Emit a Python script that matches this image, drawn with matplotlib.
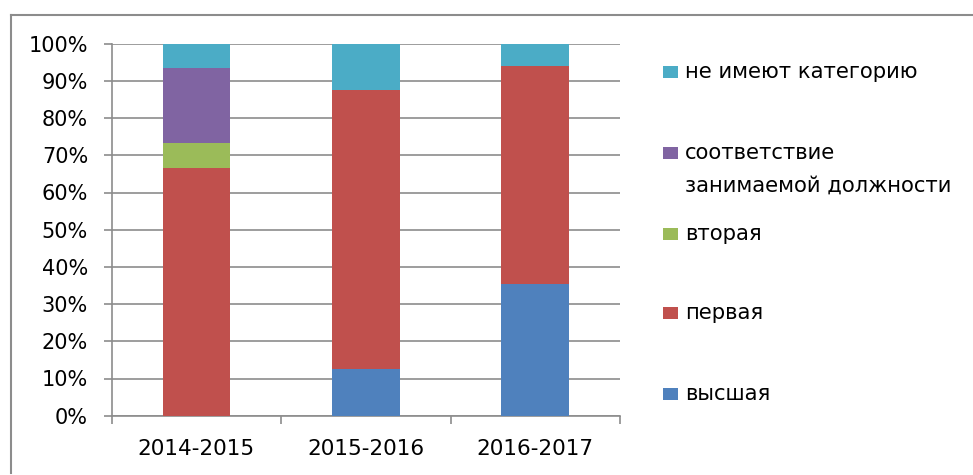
import matplotlib
matplotlib.use('Agg')
import matplotlib.pyplot as plt
from matplotlib.patches import Rectangle
from matplotlib.lines import Line2D
import numpy as np

# teacher qualification categories by school year, shares in %
years = ['2014-2015', '2015-2016', '2016-2017']
categories = ['высшая', 'первая', 'вторая',
              'соответствие\nзанимаемой должности', 'не имеют категорию']
vysshaya = [0.0, 12.5, 35.3]
pervaya = [66.7, 75.0, 58.8]
vtoraya = [6.7, 0.0, 0.0]
sootvetstvie = [20.0, 0.0, 0.0]
net_kategorii = [6.6, 12.5, 5.9]
series = [vysshaya, pervaya, vtoraya, sootvetstvie, net_kategorii]
colors = ['#4F81BD', '#C0504D', '#9BBB59', '#8064A2', '#4BACC6']

plt.rcParams['font.family'] = ['DejaVu Sans']
W, H = 973, 475
fig = plt.figure(figsize=(W / 100, H / 100), dpi=100)
ax = fig.add_axes([111.7 / W, (H - 415.7) / H, (620 - 111.7) / W, (415.7 - 43.7) / H])

x = np.arange(len(years))
bottom = np.zeros(len(years))
for vals, col in zip(series, colors):
    ax.bar(x, vals, 0.4, bottom=bottom, color=col, zorder=3)
    bottom += np.array(vals)

grid_col = '#8c8c8c'
ax.set_ylim(0, 100)
ax.set_xlim(-0.5, 2.5)
ax.set_yticks(range(0, 101, 10))
ax.set_yticklabels([f'{v}%' for v in range(0, 101, 10)], fontsize=15)
ax.yaxis.grid(True, color=grid_col, lw=1.2, zorder=0)
ax.set_xticks([-0.5, 0.5, 1.5, 2.5])
ax.set_xticklabels([])
ax.set_xticks(x, minor=True)
ax.set_xticklabels(years, minor=True, fontsize=15.5)
ax.tick_params(axis='x', which='major', length=6, color=grid_col, width=1.2, direction='out')
ax.tick_params(axis='x', which='minor', length=0, pad=17)
ax.tick_params(axis='y', length=6, color=grid_col, width=1.2, pad=11)
for s in ['top', 'right']:
    ax.spines[s].set_visible(False)
for s in ['left', 'bottom']:
    ax.spines[s].set_color(grid_col)
    ax.spines[s].set_linewidth(1.2)

# hand-made legend, Excel style (marker aligned with first text line)
leg_rows = [(net_kategorii, 72.3), (sootvetstvie, 153), (vtoraya, 234), (pervaya, 313), (vysshaya, 394)]
for vals, yc in leg_rows:
    i = series.index(vals)
    fig.add_artist(Rectangle((663 / W, (H - yc - 6) / H), 15 / W, 12 / H,
                             transform=fig.transFigure, color=colors[i], lw=0))
    lines = categories[i].split('\n')
    for k, line in enumerate(lines):
        fig.text(685 / W, (H - yc - k * 32.7) / H, line, fontsize=15.2,
                 va='center', ha='left')

# chart frame
fig.add_artist(Line2D([10.5 / W, 10.5 / W], [(H - 15) / H, (H - 473) / H],
                      transform=fig.transFigure, color='#8c8c8c', lw=1.5))
fig.add_artist(Line2D([10.5 / W, 1.0], [(H - 15) / H, (H - 15) / H],
                      transform=fig.transFigure, color='#8c8c8c', lw=1.5))

fig.savefig('out.png', dpi=100)
